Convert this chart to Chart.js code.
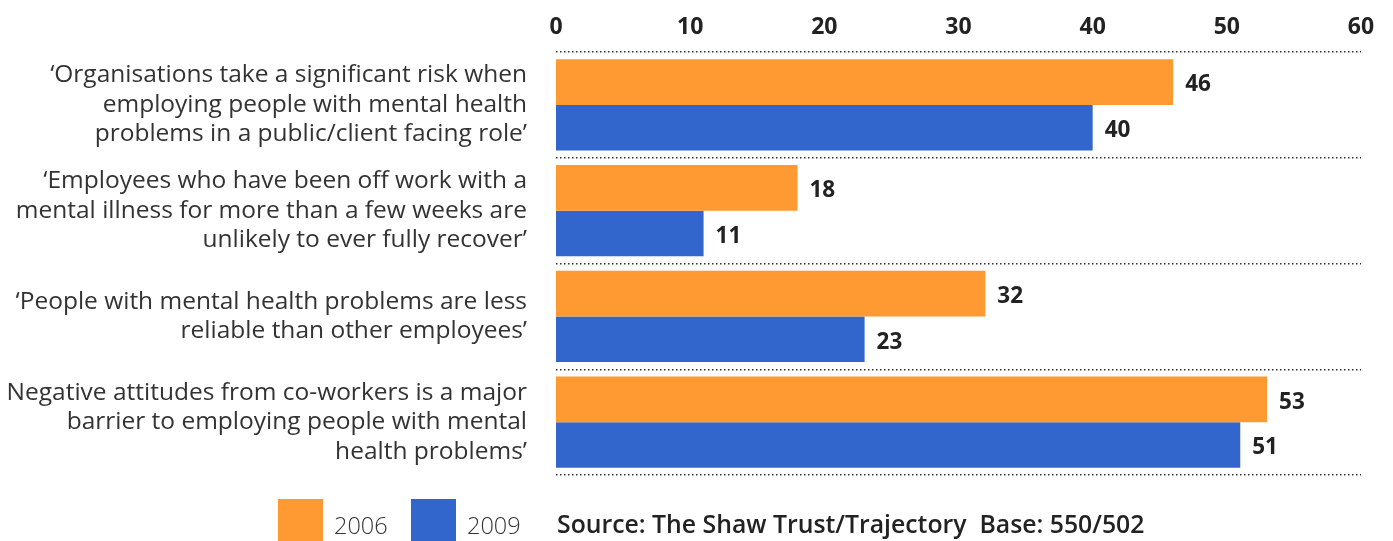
<!DOCTYPE html>
<html>
<head>
<meta charset="utf-8">
<script src="https://cdn.jsdelivr.net/npm/chart.js@4"></script>
<style>
html,body{margin:0;padding:0;background:#fff;}
#wrap{position:relative;width:1393px;height:541px;}
</style>
</head>
<body>
<div id="wrap"><canvas id="c" width="1393" height="541"></canvas></div>
<script>
const categories = [
  ["\u2018Organisations take a significant risk when", "employing people with mental health", "problems in a public/client facing role\u2019"],
  ["\u2018Employees who have been off work with a", "mental illness for more than a few weeks are", "unlikely to ever fully recover\u2019"],
  ["\u2018People with mental health problems are less", "reliable than other employees\u2019"],
  ["Negative attitudes from co-workers is a major", "barrier to employing people with mental", "health problems\u2019"]
];
const seriesNames = ["2006", "2009"];
const values2006 = [46, 18, 32, 53];
const values2009 = [40, 11, 23, 51];
const xTicks = [0, 10, 20, 30, 40, 50, 60];
const sourceText = "Source: The Shaw Trust/Trajectory  Base: 550/502";

const ORANGE = "#ff9a33";
const BLUE = "#3366cc";
const TEXT = "#222222";

const valueLabels = {
  id: "valueLabels",
  afterDatasetsDraw(chart) {
    const ctx = chart.ctx;
    ctx.save();
    ctx.font = "bold 22.5px 'Open Sans', sans-serif";
    ctx.fillStyle = TEXT;
    ctx.textAlign = "left";
    ctx.textBaseline = "middle";
    chart.data.datasets.forEach((ds, di) => {
      chart.getDatasetMeta(di).data.forEach((bar, i) => {
        ctx.fillText(String(ds.data[i]), bar.x + 12, bar.y + 3);
      });
    });
    ctx.restore();
  }
};

const footer = {
  id: "footer",
  afterDraw(chart) {
    const ctx = chart.ctx;
    ctx.save();
    const boxes = [{x: 278, tx: 334}, {x: 411, tx: 467}];
    chart.data.datasets.forEach((ds, i) => {
      const b = boxes[i];
      ctx.fillStyle = ds.backgroundColor;
      ctx.fillRect(b.x, 499, 45, 50);
      ctx.fillStyle = "#333";
      ctx.font = "300 23.5px 'Open Sans', sans-serif";
      ctx.textAlign = "left";
      ctx.textBaseline = "alphabetic";
      ctx.fillText(ds.label, b.tx, 534);
    });
    ctx.fillStyle = TEXT;
    ctx.font = "600 24.8px 'Open Sans', sans-serif";
    ctx.fillText(sourceText, 557, 533);
    ctx.restore();
  }
};

new Chart(document.getElementById("c"), {
  type: "bar",
  data: {
    labels: categories,
    datasets: [
      {label: seriesNames[0], data: values2006, backgroundColor: ORANGE, categoryPercentage: 0.865, barPercentage: 1.0},
      {label: seriesNames[1], data: values2009, backgroundColor: BLUE, categoryPercentage: 0.865, barPercentage: 1.0}
    ]
  },
  options: {
    indexAxis: "y",
    responsive: false,
    animation: false,
    layout: {padding: {left: 0, right: 32, top: 0, bottom: 66}},
    plugins: {legend: {display: false}, tooltip: {enabled: false}},
    scales: {
      x: {
        position: "top",
        min: 0, max: 60,
        afterBuildTicks(scale) { scale.ticks = xTicks.map(v => ({value: v})); },
        afterFit(scale) { scale.height = 52; scale.paddingLeft = 0; scale.paddingRight = 0; },
        grid: {display: false, drawTicks: false},
        border: {display: false},
        ticks: {color: TEXT, font: {family: "'Open Sans', sans-serif", size: 23, weight: "bold"}, padding: 11}
      },
      y: {
        afterFit(scale) { scale.width = 556; scale.paddingTop = 0; scale.paddingBottom = 0; },
        grid: {display: true, offset: true, drawTicks: false, color: "#333", lineWidth: 1.5},
        border: {display: false, dash: [1.5, 2.5]},
        ticks: {color: "#333", font: {family: "'Open Sans', sans-serif", size: 24.5}, padding: 29, lineHeight: 1.3, autoSkip: false}
      }
    }
  },
  plugins: [valueLabels, footer]
});
</script>
</body>
</html>
